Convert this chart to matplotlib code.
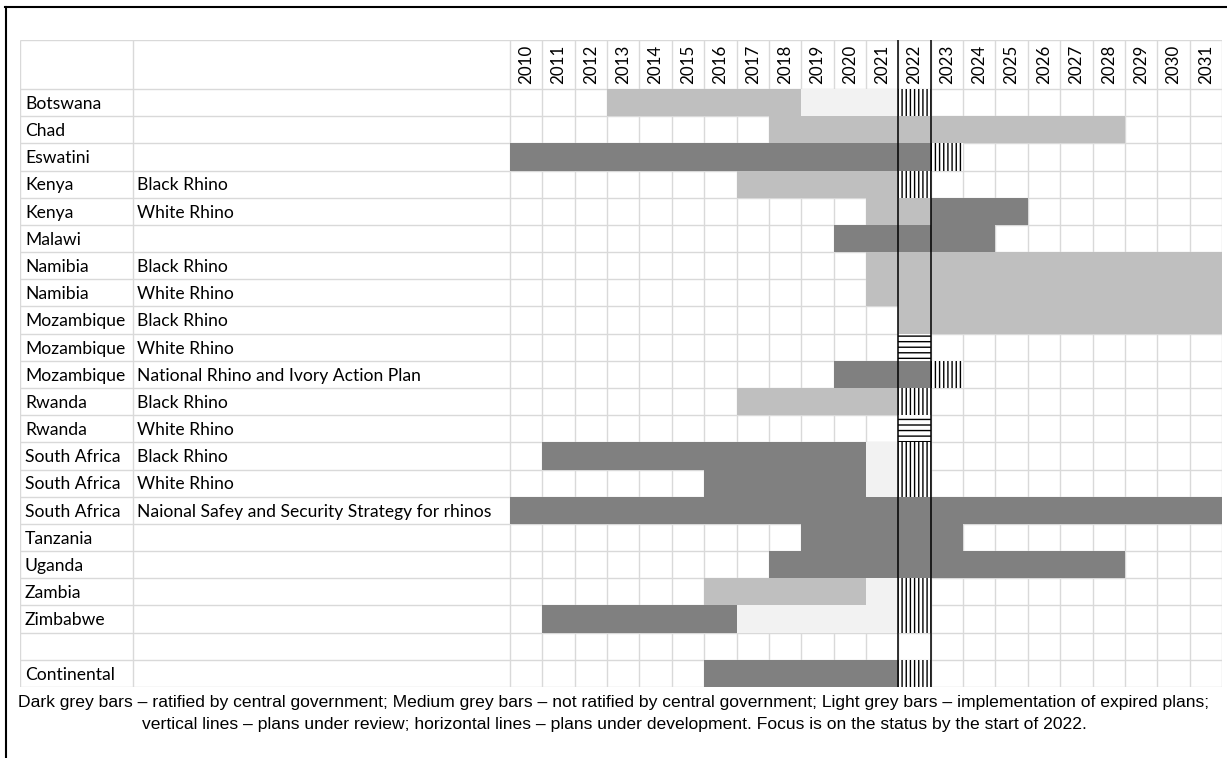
import matplotlib
matplotlib.use("Agg")
import matplotlib.pyplot as plt
from matplotlib import font_manager
from matplotlib.lines import Line2D

# ---------------- data ----------------
years = list(range(2010, 2032))
countries = ["Botswana", "Chad", "Eswatini", "Kenya", "Kenya", "Malawi",
             "Namibia", "Namibia", "Mozambique", "Mozambique", "Mozambique",
             "Rwanda", "Rwanda", "South Africa", "South Africa", "South Africa",
             "Tanzania", "Uganda", "Zambia", "Zimbabwe", "", "Continental"]
plans = ["", "", "", "Black Rhino", "White Rhino", "",
         "Black Rhino", "White Rhino", "Black Rhino", "White Rhino",
         "National Rhino and Ivory Action Plan",
         "Black Rhino", "White Rhino", "Black Rhino", "White Rhino",
         "Naional Safey and Security Strategy for rhinos",
         "", "", "", "", "", ""]
# (first year, last year) spans per row, None = not present
ratified = [None, None, (2010, 2022), None, (2023, 2025), (2020, 2024),
            None, None, None, None, (2020, 2022),
            None, None, (2011, 2020), (2016, 2020), (2010, 2031),
            (2019, 2023), (2018, 2028), None, (2011, 2016), None, (2016, 2021)]
not_ratified = [(2013, 2018), (2018, 2028), None, (2017, 2021), (2021, 2022), None,
                (2021, 2031), (2021, 2031), (2022, 2031), None, None,
                (2017, 2021), None, None, None, None,
                None, None, (2016, 2020), None, None, None]
expired = [(2019, 2021), None, None, None, None, None,
           None, None, None, None, None,
           None, None, (2021, 2021), (2021, 2021), None,
           None, None, (2021, 2021), (2017, 2021), None, None]
under_review = [2022, None, 2023, 2022, None, None,
                None, None, None, None, 2023,
                2022, None, 2022, 2022, None,
                None, None, 2022, 2022, None, 2022]
under_development = [None, None, None, None, None, None,
                     None, None, None, 2022, None,
                     None, 2022, None, None, None,
                     None, None, None, None, None, None]
focus_year = 2022
caption_1 = ("Dark grey bars \u2013 ratified by central government; Medium grey bars \u2013 not ratified by "
             "central government; Light grey bars \u2013 implementation of expired plans;")
caption_2 = ("vertical lines \u2013 plans under review; horizontal lines \u2013 plans under development. "
             "Focus is on the status by the start of 2022.")

# ---------------- style ----------------
names = {f.name for f in font_manager.fontManager.ttflist}
narrow = "Liberation Sans Narrow" if "Liberation Sans Narrow" in names else "Liberation Sans"
table_font = "Lato"
DARK, MED, LIGHT, GRID = "#808080", "#bfbfbf", "#f2f2f2", "#d9d9d9"

W, H = 1227, 758
fig = plt.figure(figsize=(W / 100, H / 100), dpi=100)
left_px, right_px, top_px, bottom_px = 20, 1222, 40, 687
first_col_px, desc_col_px, hdr_bottom_px = 510, 133, 89
ax = fig.add_axes([left_px / W, 1 - bottom_px / H,
                   (right_px - left_px) / W, (bottom_px - top_px) / H])
n_rows = len(countries)
col_w = (right_px - first_col_px) / len(years)
row_h = (bottom_px - hdr_bottom_px) / n_rows
x_country = years[0] - (first_col_px - left_px) / col_w
x_desc = years[0] - (first_col_px - desc_col_px) / col_w
x_end = years[-1] + 1
hdr = (hdr_bottom_px - top_px) / row_h
ax.set_xlim(x_country, x_end)
ax.set_ylim(n_rows, -hdr)
ax.axis("off")

# grid
vx = [x_country, x_desc] + years + [x_end]
ax.vlines(vx, -hdr, n_rows, color=GRID, lw=1.0, zorder=1)
ax.hlines([-hdr] + list(range(n_rows + 1)), x_country, x_end, color=GRID, lw=1.0, zorder=1)

# bars
for spans, colour in ((ratified, DARK), (not_ratified, MED), (expired, LIGHT)):
    for i, sp in enumerate(spans):
        if sp is None:
            continue
        ax.barh(i + 0.5, sp[1] - sp[0] + 1, left=sp[0], height=1.0,
                color=colour, lw=0, zorder=2)
for marks, hatch in ((under_review, "||||"), (under_development, "---")):
    for i, yr in enumerate(marks):
        if yr is None:
            continue
        ax.barh(i + 0.5, 1, left=yr, height=1.0, facecolor="white",
                edgecolor="black", hatch=hatch, lw=0, zorder=3)

ax.vlines([focus_year, focus_year + 1], -hdr, n_rows, color="black", lw=1.1, zorder=4)

# texts
for yr in years:
    ax.text(yr + 0.5, -0.17, str(yr), rotation=90, ha="center", va="bottom",
            fontsize=12.2, family=table_font, color="black")
for i, (c, p) in enumerate(zip(countries, plans)):
    ax.text(x_country + 5 / col_w, i + 0.55, c, ha="left", va="center",
            fontsize=12.6, family=table_font)
    ax.text(x_desc + 4 / col_w, i + 0.55, p, ha="left", va="center",
            fontsize=12.6, family=table_font)

fig.text(614 / W, 1 - 703 / H, caption_1, ha="center", va="center",
         fontsize=12.58, family=[narrow, "DejaVu Sans"])
fig.text(614 / W, 1 - 724 / H, caption_2, ha="center", va="center",
         fontsize=12.58, family=[narrow, "DejaVu Sans"])

# outer frame (top and left)
fig.add_artist(Line2D([5 / W, 1], [1 - 7 / H, 1 - 7 / H], color="black", lw=1.5,
                      transform=fig.transFigure))
fig.add_artist(Line2D([6 / W, 6 / W], [0, 1 - 7 / H], color="black", lw=1.5,
                      transform=fig.transFigure))

fig.savefig("out.png", dpi=100, facecolor="white")
